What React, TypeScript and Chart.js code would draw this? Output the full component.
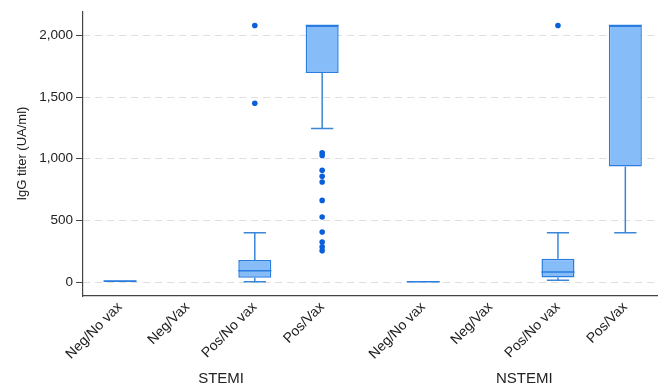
import React, { useEffect, useRef } from "react";
import { Chart, registerables } from "chart.js";

Chart.register(...registerables);

const groups = ["STEMI", "NSTEMI"];
const categories = ["Neg/No vax", "Neg/Vax", "Pos/No vax", "Pos/Vax"];
const positions = [1, 2, 3, 4, 5.5, 6.5, 7.5, 8.5];
const tickLabels = [...categories, ...categories];
const yTicks = [0, 500, 1000, 1500, 2000];

const whiskerLow: (number | null)[] = [0, null, 2, 1245, 0, null, 14, 400];
const q1: (number | null)[] = [0, null, 35, 1695, 0, null, 36, 938];
const median: (number | null)[] = [7, null, 92, 2080, 2, null, 81, 2080];
const q3: (number | null)[] = [14, null, 178, 2080, 4, null, 190, 2080];
const whiskerHigh: (number | null)[] = [14, null, 400, 2080, 4, null, 400, 2080];

const outliers: number[][] = [
  [],
  [],
  [2080, 1450],
  [1048, 1027, 906, 857, 811, 662, 527, 405, 324, 285, 253],
  [],
  [],
  [2080],
  [],
];

const FONT = "'Liberation Sans', Arial, Helvetica, sans-serif";
const BOX_WIDTH = 0.49;
const CAP_HALF = 0.165;

const groupLabelPlugin = {
  id: "groupLabels",
  afterDraw(chart: any) {
    const { ctx } = chart;
    const xs = chart.scales.x;
    ctx.save();
    ctx.font = `15px ${FONT}`;
    ctx.fillStyle = "#222";
    ctx.textAlign = "center";
    ctx.textBaseline = "middle";
    groups.forEach((g, i) => {
      const ps = positions.slice(i * categories.length, (i + 1) * categories.length);
      const c = (ps[0] + ps[ps.length - 1]) / 2;
      ctx.fillText(g, xs.getPixelForValue(c), 379);
    });
    ctx.restore();
  },
};

export default function App() {
  const ref = useRef<HTMLCanvasElement | null>(null);

  useEffect(() => {
    if (!ref.current) return;

    const boxData: any[] = [];
    const whiskerData: any[] = [];
    const medianData: any[] = [];
    const outlierData: any[] = [];

    positions.forEach((p, i) => {
      const lo = whiskerLow[i], a = q1[i], m = median[i], b = q3[i], hi = whiskerHigh[i];
      if (a === null || b === null || m === null || lo === null || hi === null) return;
      boxData.push({ x: p, y: [a, b] });
      if (hi > b) {
        whiskerData.push({ x: p, y: b }, { x: p, y: hi }, { x: p, y: null });
        whiskerData.push({ x: p - CAP_HALF, y: hi }, { x: p + CAP_HALF, y: hi }, { x: p, y: null });
      }
      if (lo < a) {
        whiskerData.push({ x: p, y: a }, { x: p, y: lo }, { x: p, y: null });
        whiskerData.push({ x: p - CAP_HALF, y: lo }, { x: p + CAP_HALF, y: lo }, { x: p, y: null });
      }
      medianData.push({ x: p - BOX_WIDTH / 2, y: m }, { x: p + BOX_WIDTH / 2, y: m }, { x: p, y: null });
      outliers[i].forEach((v) => outlierData.push({ x: p, y: v }));
    });

    const chart = new Chart(ref.current, {
      type: "bar",
      data: {
        datasets: [
          {
            type: "bar",
            data: boxData,
            backgroundColor: "#86bdf8",
            borderColor: "#2a7de0",
            borderWidth: 1.5,
            borderSkipped: false,
            barPercentage: BOX_WIDTH,
            categoryPercentage: 1,
            order: 3,
          } as any,
          {
            type: "line",
            data: whiskerData,
            borderColor: "#3a86d8",
            borderWidth: 1.5,
            pointRadius: 0,
            fill: false,
            spanGaps: false,
            tension: 0,
            order: 2,
          } as any,
          {
            type: "line",
            data: medianData,
            borderColor: "#2a7de0",
            borderWidth: 1.5,
            pointRadius: 0,
            fill: false,
            spanGaps: false,
            tension: 0,
            order: 1,
          } as any,
          {
            type: "scatter",
            data: outlierData,
            backgroundColor: "#0b5fd8",
            borderColor: "#0b5fd8",
            pointRadius: 2.8,
            borderWidth: 0,
            order: 0,
          } as any,
        ],
      },
      options: {
        animation: false,
        responsive: true,
        maintainAspectRatio: false,
        layout: { padding: { top: 10, left: 0, right: 0, bottom: 0 } },
        plugins: {
          legend: { display: false },
          tooltip: { enabled: false },
        },
        scales: {
          x: {
            type: "linear",
            offset: false,
            min: 0.45,
            max: 8.97,
            afterBuildTicks: (scale: any) => {
              scale.ticks = positions.map((v) => ({ value: v }));
            },
            afterFit: (scale: any) => {
              scale.height = 92;
            },
            ticks: {
              autoSkip: false,
              minRotation: 45,
              maxRotation: 45,
              padding: 3,
              color: "#222",
              font: { family: FONT, size: 14 },
              callback: (value: any) => {
                const idx = positions.indexOf(Number(value));
                return idx >= 0 ? tickLabels[idx] : "";
              },
            },
            grid: { display: true, drawOnChartArea: false, drawTicks: false },
            border: { display: true, color: "#444", width: 1.2 },
          },
          y: {
            type: "linear",
            min: -113,
            max: 2197,
            afterBuildTicks: (scale: any) => {
              scale.ticks = yTicks.map((v) => ({ value: v }));
            },
            afterFit: (scale: any) => {
              scale.width = 83;
            },
            title: {
              display: true,
              text: "IgG titer (UA/ml)",
              color: "#222",
              font: { family: FONT, size: 13 },
              padding: { top: 15, bottom: 0 },
            },
            ticks: {
              padding: 3,
              color: "#222",
              font: { family: FONT, size: 13.5 },
              callback: (value: any) => Number(value).toLocaleString("en-US"),
            },
            grid: {
              color: "#dedede",
              lineWidth: 1,
              drawTicks: true,
              tickLength: 7,
              tickColor: "#444",
              tickWidth: 1,
            },
            border: { display: true, color: "#444", width: 1.2, dash: [7, 5] },
          },
        },
      } as any,
      plugins: [groupLabelPlugin],
    });

    return () => chart.destroy();
  }, []);

  return (
    <div style={{ position: "fixed", left: 0, top: 0, width: 661, height: 388, background: "#fff" }}>
      <canvas ref={ref} />
    </div>
  );
}
